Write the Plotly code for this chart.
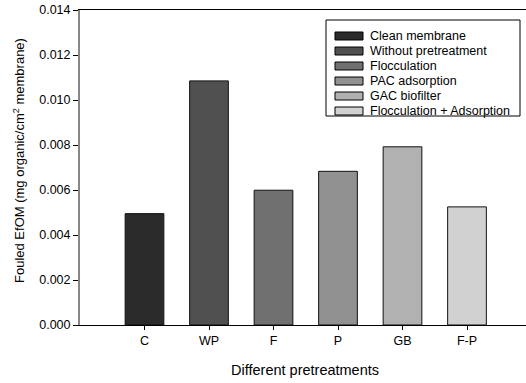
import plotly.graph_objects as go

# Fouled effluent organic matter per pretreatment
categories = ["C", "WP", "F", "P", "GB", "F-P"]
efom = [0.00495, 0.01085, 0.00599, 0.00683, 0.00792, 0.00525]
series_names = ["Clean membrane", "Without pretreatment", "Flocculation",
                "PAC adsorption", "GAC biofilter", "Flocculation + Adsorption"]
bar_colors = ["#2b2b2b", "#505050", "#707070", "#919191", "#b1b1b1", "#d1d1d1"]
y_ticks = [0.000, 0.002, 0.004, 0.006, 0.008, 0.010, 0.012, 0.014]

W, H = 526, 383
L, R, T, B = 80, 0, 10, 58
FONT = "Liberation Sans, Arial, sans-serif"

fig = go.Figure()
fig.add_trace(go.Bar(
    x=list(range(len(categories))), y=efom, width=0.6,
    marker=dict(color=bar_colors, line=dict(color="#111111", width=1)),
    showlegend=False,
))

# Plot-area pixel helpers for the hand-drawn legend box
pw, ph = W - L - R, H - T - B
def px(x): return (x - L) / pw
def py(y): return (H - B - y) / ph

shapes = [dict(type="rect", xref="paper", yref="paper",
               x0=px(326), x1=px(520), y0=py(116), y1=py(20),
               line=dict(color="#000000", width=1), fillcolor="white")]
annotations = []
for i, (name, col) in enumerate(zip(series_names, bar_colors)):
    yc = 36 + 15 * i
    shapes.append(dict(type="rect", xref="paper", yref="paper",
                       x0=px(335), x1=px(363), y0=py(yc + 4), y1=py(yc - 4),
                       line=dict(color="#000000", width=1), fillcolor=col))
    annotations.append(dict(xref="paper", yref="paper", x=px(368), y=py(yc),
                            text=name, showarrow=False, xanchor="left",
                            yanchor="middle", font=dict(size=12.5, color="#000000")))

# Axis titles placed as annotations at fixed pixel positions
annotations.append(dict(xref="paper", yref="paper", x=px(305), y=py(370),
                        text="Different pretreatments", showarrow=False,
                        xanchor="center", yanchor="middle",
                        font=dict(size=14.5, color="#000000")))
annotations.append(dict(xref="paper", yref="paper", x=px(19), y=py(161),
                        text="Fouled EfOM (mg organic/cm<sup>2</sup> membrane)",
                        showarrow=False, textangle=-90,
                        xanchor="center", yanchor="middle",
                        font=dict(size=13, color="#000000")))

fig.update_layout(
    width=W, height=H,
    margin=dict(l=L, r=R, t=T, b=B, pad=0),
    paper_bgcolor="white", plot_bgcolor="white",
    font=dict(family=FONT, size=12.5, color="#000000"),
    xaxis=dict(
        range=[-1, -1 + pw / 64.5],
        tickmode="array", tickvals=list(range(len(categories))), ticktext=categories,
        ticks="outside", ticklen=4, tickcolor="#000000", tickwidth=1,
        showline=True, linecolor="#000000", linewidth=1, mirror=True,
        showgrid=False, zeroline=False,
        tickfont=dict(size=12.5),
    ),
    yaxis=dict(
        range=[0, 0.014],
        tickmode="array", tickvals=y_ticks, tickformat=".3f",
        ticks="outside", ticklen=5, tickcolor="#000000", tickwidth=1,
        showline=True, linecolor="#888888", linewidth=2,
        showgrid=False, zeroline=False,
        tickfont=dict(size=12.5),
    ),
    shapes=shapes, annotations=annotations,
    bargap=0.4,
)

fig.write_html("out.html")
